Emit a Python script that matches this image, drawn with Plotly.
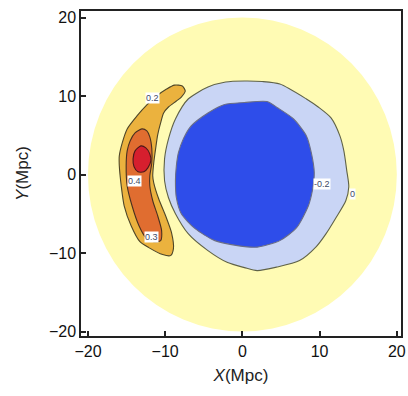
import plotly.graph_objects as go

# Contour levels and their fill colours (density contrast map)
LEVELS = ["-0.2", "0", "0.2", "0.3", "0.4"]
DISK_RADIUS = 20.0
DISK_COLOR = "#FFFBB4"

# -0.2 contour (void core)
VOID_CORE_X = [0.26, 3.19, 4.59, 6.63, 8.29, 8.93, 9.31, 9.06, 8.55, 7.02, 4.85, 1.91,
               -0.64, -3.57, -6.12, -7.91, -8.55, -8.67, -8.55, -8.29, -7.65, -6.63, -4.46, -2.30]
VOID_CORE_Y = [9.17, 9.30, 8.48, 7.08, 4.92, 2.76, 0.22, -2.07, -3.98, -6.77, -8.42, -9.25,
               -9.06, -8.42, -6.90, -5.00, -2.96, -0.80, 1.11, 2.76, 4.54, 6.19, 7.84, 8.92]

# 0 contour (void edge)
VOID_EDGE_X = [0.26, 2.55, 4.85, 8.29, 9.82, 11.48, 12.63, 13.14, 13.52, 13.78, 13.39, 12.12,
               10.84, 9.57, 7.40, 4.46, 1.91, 0.26, -1.91, -4.46, -7.02, -8.67, -9.57, -10.08,
               -10.08, -9.57, -8.67, -7.02, -4.46, -2.17]
VOID_EDGE_Y = [11.91, 11.84, 11.52, 9.62, 8.60, 7.21, 4.92, 3.01, 0.47, -1.56, -3.34, -5.50,
               -7.53, -9.18, -10.96, -11.79, -12.24, -11.86, -11.22, -9.69, -7.53, -4.99, -2.96, -0.80,
               1.99, 4.54, 7.08, 9.62, 11.14, 11.78]

# 0.2 contour (crescent)
RIDGE_02_X = [-8.80, -7.78, -7.40, -7.91, -8.55, -9.57, -10.20, -10.59, -10.97, -11.22, -11.48,
              -11.61, -11.48, -10.84, -9.95, -9.18, -8.93, -9.31, -10.33, -12.12, -13.27, -14.41,
              -15.31, -15.69, -15.94, -15.94, -15.56, -14.92, -13.65, -12.37, -11.10, -9.82]
RIDGE_02_Y = [11.39, 11.27, 10.63, 9.87, 9.36, 8.60, 7.84, 6.57, 5.04, 3.39, 1.49,
              -0.17, -1.05, -3.09, -5.25, -7.41, -9.44, -10.33, -10.20, -9.31, -8.55, -6.52,
              -3.98, -1.44, 1.11, 2.38, 4.03, 5.81, 7.46, 8.86, 10.00, 10.89]

# 0.3 contour
RIDGE_03_X = [-13.01, -12.37, -11.99, -11.73, -11.73, -11.99, -11.99, -11.61, -10.97, -10.46,
              -10.59, -11.48, -12.50, -13.39, -14.29, -14.92, -15.05, -14.92, -14.54, -13.90]
RIDGE_03_Y = [5.81, 5.55, 4.79, 3.27, 1.49, -0.17, -1.44, -3.34, -5.25, -7.15,
              -8.42, -8.55, -8.04, -6.52, -3.98, -1.44, 1.11, 3.01, 4.28, 5.30]

# 0.4 contour (peak)
PEAK_04_X = [-13.14, -12.50, -11.99, -11.86, -12.24, -12.76, -13.52, -14.03, -14.16, -13.90]
PEAK_04_Y = [3.65, 3.39, 2.63, 1.74, 0.85, 0.34, 0.34, 0.98, 1.99, 3.01]

# Contour label positions
LABEL_TEXT = ["0.2", "0.4", "0.3", "-0.2", "0"]
LABEL_X = [-11.61, -14.03, -11.73, 10.33, 14.29]
LABEL_Y = [9.74, -0.80, -7.92, -1.18, -2.45]

TICKS = [-20, -10, 0, 10, 20]
TICK_TEXT = ["\u221220", "\u221210", "0", "10", "20"]

regions = [
    (VOID_EDGE_X, VOID_EDGE_Y, "#C9D5F5", "#5F6248"),
    (VOID_CORE_X, VOID_CORE_Y, "#2E4DEA", "#6A6E86"),
    (RIDGE_02_X, RIDGE_02_Y, "#EBB23E", "#4E4628"),
    (RIDGE_03_X, RIDGE_03_Y, "#E06D30", "#4A3020"),
    (PEAK_04_X, PEAK_04_Y, "#D61F2E", "#4A1818"),
]

fig = go.Figure()
for xs, ys, fill, edge in regions:
    fig.add_trace(go.Scatter(
        x=xs + xs[:1], y=ys + ys[:1], mode="lines", fill="toself",
        fillcolor=fill, line=dict(color=edge, width=1.1, shape="spline", smoothing=0.7),
        hoverinfo="skip", showlegend=False,
    ))

# Pale disk marking the mapped volume
fig.add_shape(type="circle", xref="x", yref="y",
              x0=-DISK_RADIUS, y0=-DISK_RADIUS, x1=DISK_RADIUS, y1=DISK_RADIUS,
              fillcolor=DISK_COLOR, line=dict(width=0), layer="below")

for t, x, y in zip(LABEL_TEXT, LABEL_X, LABEL_Y):
    fig.add_annotation(x=x, y=y, text=t, showarrow=False, bgcolor="white",
                       borderpad=0, font=dict(family="Liberation Sans", size=9, color="#3E4A66"))

axis_common = dict(
    showgrid=False, zeroline=False, showline=True, linecolor="#222222", linewidth=1.5,
    mirror=True, ticks="inside", ticklen=5, tickwidth=1.5, tickcolor="#222222",
    tickvals=TICKS, ticktext=TICK_TEXT, ticklabeloverflow="allow",
    tickfont=dict(family="Liberation Sans", size=16, color="#111111"),
)

fig.update_layout(
    width=408, height=396,
    margin=dict(l=81, r=2, t=11, b=60),
    paper_bgcolor="white", plot_bgcolor="white",
    xaxis=dict(range=[-20.9, 20.54],
               title=dict(text="<i>X</i>(Mpc)", standoff=10,
                          font=dict(family="Liberation Sans", size=17, color="#222222")),
               **axis_common),
    yaxis=dict(range=[-20.57, 20.83],
               title=dict(text="<i>Y</i>(Mpc)", standoff=16,
                          font=dict(family="Liberation Sans", size=17, color="#222222")),
               **axis_common),
)

fig.write_html("out.html")
